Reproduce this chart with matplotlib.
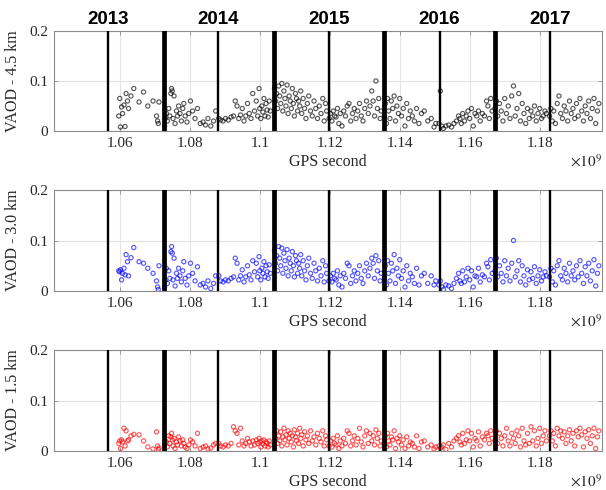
import matplotlib
matplotlib.use('Agg')
import matplotlib.pyplot as plt
import numpy as np

# ---------------- data (time in units of 1e9 GPS seconds) ----------------
gps_time = [
    # 2013 H2
    1.0597, 1.0600, 1.0602, 1.0605, 1.0608, 1.0612, 1.0615, 1.0618, 1.0622, 1.0625,
    1.0632, 1.0640, 1.0655, 1.0668, 1.0680, 1.0695, 1.0705, 1.0708, 1.0710, 1.0712,
    # 2014 H1
    1.0728, 1.0730, 1.0733, 1.0736, 1.0740, 1.0743, 1.0746, 1.0748, 1.0750, 1.0752,
    1.0755, 1.0758, 1.0762, 1.0765, 1.0768, 1.0772, 1.0776, 1.0780, 1.0783, 1.0787,
    1.0792, 1.0797, 1.0802, 1.0808, 1.0815, 1.0822, 1.0830, 1.0838, 1.0845, 1.0852,
    1.0860, 1.0868, 1.0874,
    # 2014 H2
    1.0883, 1.0888, 1.0895, 1.0902, 1.0910, 1.0918, 1.0925, 1.0930, 1.0935, 1.0940,
    1.0945, 1.0950, 1.0955, 1.0960, 1.0965, 1.0970, 1.0975, 1.0980, 1.0985, 1.0990,
    1.0994, 1.0998, 1.1000, 1.1003, 1.1006, 1.1009, 1.1012, 1.1015, 1.1018, 1.1021,
    1.1024, 1.1027, 1.1030,
    # 2015 H1
    1.1042, 1.1045, 1.1048, 1.1051, 1.1054, 1.1057, 1.1060, 1.1063, 1.1066, 1.1069,
    1.1072, 1.1075, 1.1078, 1.1081, 1.1084, 1.1087, 1.1090, 1.1093, 1.1096, 1.1099,
    1.1102, 1.1105, 1.1108, 1.1111, 1.1114, 1.1117, 1.1120, 1.1124, 1.1128, 1.1132,
    1.1136, 1.1140, 1.1145, 1.1150, 1.1155, 1.1160, 1.1165, 1.1170, 1.1175, 1.1180,
    1.1184, 1.1188, 1.1191,
    # 2015 H2
    1.1198, 1.1202, 1.1206, 1.1210, 1.1214, 1.1218, 1.1222, 1.1226, 1.1230, 1.1235,
    1.1240, 1.1245, 1.1250, 1.1255, 1.1260, 1.1265, 1.1270, 1.1275, 1.1280, 1.1285,
    1.1290, 1.1295, 1.1300, 1.1305, 1.1310, 1.1315, 1.1320, 1.1324, 1.1328, 1.1332,
    1.1336, 1.1340, 1.1344, 1.1347,
    # 2016 H1
    1.1356, 1.1359, 1.1362, 1.1365, 1.1368, 1.1372, 1.1376, 1.1380, 1.1384, 1.1388,
    1.1392, 1.1396, 1.1400, 1.1405, 1.1410, 1.1415, 1.1420, 1.1425, 1.1430, 1.1436,
    1.1442, 1.1448, 1.1455, 1.1462, 1.1470, 1.1480, 1.1490, 1.1498, 1.1503,
    # 2016 H2
    1.1512, 1.1516, 1.1520, 1.1525, 1.1532, 1.1540, 1.1548, 1.1555, 1.1562, 1.1568,
    1.1572, 1.1576, 1.1580, 1.1585, 1.1590, 1.1595, 1.1600, 1.1605, 1.1610, 1.1615,
    1.1620, 1.1625, 1.1630, 1.1636, 1.1642, 1.1648, 1.1652, 1.1656, 1.1660, 1.1664,
    # 2017 H1
    1.1672, 1.1676, 1.1680, 1.1685, 1.1690, 1.1695, 1.1700, 1.1705, 1.1710, 1.1715,
    1.1720, 1.1725, 1.1730, 1.1735, 1.1740, 1.1745, 1.1750, 1.1755, 1.1760, 1.1765,
    1.1770, 1.1775, 1.1780, 1.1785, 1.1790, 1.1795, 1.1800, 1.1805, 1.1810, 1.1815,
    1.1819,
    # 2017 H2
    1.1828, 1.1832, 1.1836, 1.1840, 1.1845, 1.1850, 1.1855, 1.1860, 1.1865, 1.1870,
    1.1875, 1.1880, 1.1885, 1.1890, 1.1895, 1.1900, 1.1905, 1.1910, 1.1915, 1.1920,
    1.1925, 1.1930, 1.1935, 1.1940, 1.1945, 1.1950, 1.1955, 1.1960, 1.1965, 1.1969,
]

vaod_45 = [
    0.030, 0.065, 0.008, 0.048, 0.035, 0.052, 0.009, 0.075, 0.060, 0.045,
    0.070, 0.085, 0.058, 0.078, 0.050, 0.060, 0.030, 0.020, 0.015, 0.058,
    0.010, 0.025, 0.035, 0.020, 0.045, 0.030, 0.075, 0.085, 0.080, 0.025,
    0.070, 0.015, 0.040, 0.030, 0.050, 0.035, 0.020, 0.045, 0.055, 0.030,
    0.018, 0.035, 0.060, 0.040, 0.025, 0.045, 0.015, 0.018, 0.012, 0.025,
    0.010, 0.020, 0.040,
    0.025, 0.022, 0.020, 0.025, 0.022, 0.028, 0.030, 0.060, 0.050, 0.025,
    0.032, 0.045, 0.020, 0.030, 0.055, 0.035, 0.025, 0.075, 0.040, 0.060,
    0.030, 0.085, 0.045, 0.025, 0.050, 0.038, 0.065, 0.030, 0.055, 0.042,
    0.028, 0.060, 0.040,
    0.085, 0.060, 0.075, 0.045, 0.090, 0.070, 0.055, 0.095, 0.040, 0.080,
    0.065, 0.050, 0.092, 0.035, 0.070, 0.060, 0.045, 0.085, 0.055, 0.030,
    0.075, 0.065, 0.040, 0.060, 0.050, 0.080, 0.035, 0.065, 0.045, 0.025,
    0.055, 0.070, 0.040, 0.030, 0.060, 0.045, 0.025, 0.050, 0.035, 0.065,
    0.020, 0.055, 0.040,
    0.025, 0.035, 0.020, 0.040, 0.030, 0.028, 0.045, 0.015, 0.035, 0.010,
    0.040, 0.030, 0.050, 0.055, 0.020, 0.035, 0.045, 0.025, 0.040, 0.055,
    0.030, 0.020, 0.045, 0.060, 0.035, 0.050, 0.080, 0.060, 0.030, 0.100,
    0.045, 0.065, 0.025, 0.040,
    0.030, 0.055, 0.015, 0.065, 0.040, 0.025, 0.060, 0.045, 0.070, 0.020,
    0.050, 0.035, 0.065, 0.030, 0.045, 0.010, 0.055, 0.025, 0.040, 0.030,
    0.020, 0.045, 0.015, 0.035, 0.040, 0.020, 0.025, 0.008, 0.015,
    0.015, 0.080, 0.010, 0.005, 0.010, 0.012, 0.008, 0.015, 0.020, 0.030,
    0.025, 0.015, 0.035, 0.020, 0.030, 0.040, 0.025, 0.045, 0.010, 0.035,
    0.030, 0.040, 0.020, 0.035, 0.030, 0.060, 0.050, 0.025, 0.065, 0.040,
    0.045, 0.060, 0.030, 0.055, 0.040, 0.020, 0.065, 0.035, 0.050, 0.025,
    0.070, 0.090, 0.030, 0.045, 0.075, 0.020, 0.055, 0.035, 0.015, 0.045,
    0.025, 0.040, 0.030, 0.050, 0.020, 0.035, 0.045, 0.025, 0.030, 0.040,
    0.035,
    0.030, 0.045, 0.020, 0.040, 0.015, 0.055, 0.070, 0.035, 0.025, 0.050,
    0.040, 0.020, 0.060, 0.035, 0.045, 0.025, 0.055, 0.030, 0.065, 0.040,
    0.020, 0.050, 0.035, 0.060, 0.025, 0.045, 0.065, 0.015, 0.040, 0.055,
]

vaod_30 = [
    0.040, 0.038, 0.042, 0.022, 0.035, 0.045, 0.032, 0.072, 0.058, 0.030,
    0.066, 0.086, 0.058, 0.055, 0.045, 0.035, 0.020, 0.008, 0.003, 0.050,
    0.008, 0.020, 0.045, 0.015, 0.040, 0.025, 0.078, 0.088, 0.075, 0.022,
    0.065, 0.010, 0.035, 0.025, 0.045, 0.030, 0.018, 0.040, 0.058, 0.025,
    0.012, 0.030, 0.055, 0.035, 0.020, 0.048, 0.012, 0.015, 0.008, 0.020,
    0.005, 0.015, 0.030,
    0.030, 0.020, 0.018, 0.022, 0.020, 0.025, 0.028, 0.065, 0.055, 0.022,
    0.030, 0.042, 0.018, 0.028, 0.050, 0.032, 0.022, 0.060, 0.038, 0.055,
    0.028, 0.068, 0.040, 0.022, 0.045, 0.035, 0.058, 0.028, 0.050, 0.038,
    0.025, 0.052, 0.035,
    0.080, 0.055, 0.070, 0.040, 0.088, 0.065, 0.050, 0.085, 0.035, 0.075,
    0.060, 0.045, 0.082, 0.030, 0.065, 0.055, 0.040, 0.078, 0.050, 0.028,
    0.070, 0.060, 0.035, 0.055, 0.045, 0.072, 0.030, 0.060, 0.040, 0.022,
    0.050, 0.065, 0.035, 0.025, 0.055, 0.040, 0.020, 0.045, 0.030, 0.060,
    0.018, 0.050, 0.035,
    0.020, 0.030, 0.018, 0.035, 0.025, 0.022, 0.040, 0.012, 0.030, 0.008,
    0.035, 0.025, 0.055, 0.050, 0.015, 0.030, 0.040, 0.020, 0.035, 0.050,
    0.025, 0.015, 0.040, 0.055, 0.030, 0.045, 0.065, 0.055, 0.025, 0.070,
    0.040, 0.060, 0.020, 0.035,
    0.025, 0.050, 0.012, 0.060, 0.035, 0.020, 0.055, 0.040, 0.072, 0.015,
    0.045, 0.030, 0.062, 0.025, 0.040, 0.008, 0.050, 0.020, 0.035, 0.028,
    0.015, 0.045, 0.012, 0.030, 0.035, 0.015, 0.030, 0.012, 0.020,
    0.012, 0.020, 0.008, 0.003, 0.012, 0.010, 0.005, 0.015, 0.025, 0.035,
    0.020, 0.015, 0.040, 0.018, 0.028, 0.045, 0.022, 0.040, 0.008, 0.030,
    0.028, 0.045, 0.018, 0.032, 0.028, 0.055, 0.048, 0.022, 0.062, 0.035,
    0.040, 0.065, 0.028, 0.050, 0.035, 0.018, 0.060, 0.030, 0.045, 0.020,
    0.055, 0.100, 0.028, 0.040, 0.060, 0.018, 0.050, 0.030, 0.012, 0.042,
    0.022, 0.038, 0.025, 0.048, 0.015, 0.030, 0.042, 0.020, 0.028, 0.038,
    0.030,
    0.028, 0.045, 0.018, 0.040, 0.012, 0.050, 0.060, 0.030, 0.022, 0.045,
    0.035, 0.018, 0.055, 0.030, 0.040, 0.022, 0.050, 0.028, 0.060, 0.035,
    0.015, 0.048, 0.030, 0.055, 0.020, 0.040, 0.062, 0.010, 0.035, 0.050,
]

vaod_15 = [
    0.015, 0.020, 0.005, 0.022, 0.018, 0.045, 0.010, 0.040, 0.020, 0.022,
    0.030, 0.033, 0.032, 0.020, 0.008, 0.004, 0.038, 0.010, 0.003, 0.006,
    0.012, 0.020, 0.018, 0.008, 0.030, 0.015, 0.028, 0.035, 0.022, 0.010,
    0.025, 0.005, 0.018, 0.012, 0.028, 0.020, 0.010, 0.022, 0.015, 0.008,
    0.005, 0.012, 0.022, 0.018, 0.010, 0.035, 0.005, 0.008, 0.010, 0.004,
    0.006, 0.012, 0.015,
    0.015, 0.010, 0.008, 0.012, 0.010, 0.015, 0.048, 0.040, 0.035, 0.012,
    0.045, 0.020, 0.010, 0.015, 0.025, 0.018, 0.010, 0.020, 0.012, 0.022,
    0.015, 0.025, 0.018, 0.008, 0.020, 0.014, 0.022, 0.010, 0.018, 0.015,
    0.008, 0.020, 0.012,
    0.035, 0.025, 0.040, 0.015, 0.030, 0.020, 0.038, 0.010, 0.028, 0.045,
    0.022, 0.032, 0.012, 0.040, 0.025, 0.035, 0.018, 0.030, 0.008, 0.042,
    0.028, 0.020, 0.035, 0.015, 0.045, 0.025, 0.032, 0.010, 0.038, 0.022,
    0.030, 0.015, 0.040, 0.020, 0.028, 0.012, 0.035, 0.025, 0.018, 0.040,
    0.010, 0.030, 0.022,
    0.010, 0.020, 0.008, 0.025, 0.015, 0.012, 0.030, 0.005, 0.020, 0.010,
    0.025, 0.015, 0.040, 0.035, 0.010, 0.020, 0.030, 0.012, 0.025, 0.045,
    0.018, 0.008, 0.030, 0.040, 0.015, 0.035, 0.020, 0.030, 0.012, 0.042,
    0.025, 0.035, 0.010, 0.020,
    0.015, 0.030, 0.008, 0.035, 0.020, 0.012, 0.028, 0.022, 0.040, 0.005,
    0.025, 0.018, 0.030, 0.012, 0.022, 0.005, 0.028, 0.010, 0.018, 0.015,
    0.008, 0.030, 0.005, 0.018, 0.020, 0.008, 0.012, 0.004, 0.008,
    0.010, 0.005, 0.008, 0.012, 0.003, 0.015, 0.008, 0.020, 0.025, 0.030,
    0.018, 0.012, 0.035, 0.015, 0.022, 0.040, 0.020, 0.035, 0.008, 0.025,
    0.020, 0.038, 0.010, 0.028, 0.022, 0.035, 0.030, 0.015, 0.040, 0.025,
    0.020, 0.040, 0.015, 0.035, 0.025, 0.010, 0.030, 0.045, 0.020, 0.010,
    0.035, 0.025, 0.015, 0.040, 0.030, 0.008, 0.045, 0.020, 0.012, 0.035,
    0.015, 0.048, 0.020, 0.040, 0.010, 0.025, 0.045, 0.015, 0.030, 0.040,
    0.020,
    0.030, 0.040, 0.020, 0.035, 0.010, 0.045, 0.030, 0.040, 0.025, 0.038,
    0.015, 0.030, 0.042, 0.020, 0.035, 0.010, 0.040, 0.028, 0.045, 0.032,
    0.008, 0.038, 0.025, 0.042, 0.015, 0.030, 0.045, 0.005, 0.028, 0.040,
]

year_labels = ['2013', '2014', '2015', '2016', '2017']
year_starts = [1.072569616, 1.104105616, 1.135641617, 1.167264018]   # thick lines
mid_years = [1.056672016, 1.088208016, 1.119744017, 1.151366417, 1.182902418]  # thin lines
x_ticks = [1.06, 1.08, 1.10, 1.12, 1.14, 1.16, 1.18]
y_ticks = [0, 0.1, 0.2]
panel_labels = ['VAOD - 4.5 km', 'VAOD - 3.0 km', 'VAOD - 1.5 km']
panel_colors = ['black', 'blue', 'red']

# ---------------- figure ----------------
plt.rcParams['font.family'] = ['Liberation Serif', 'DejaVu Serif']
plt.rcParams['mathtext.fontset'] = 'stix'

fig = plt.figure(figsize=(6.06, 4.9), dpi=100)
left, width = 54 / 606, (602 - 54) / 606
panel_px = [(31, 131), (190, 291), (350, 451)]
series = [vaod_45, vaod_30, vaod_15]
t = np.array(gps_time)
assert len(t) == len(vaod_45) == len(vaod_30) == len(vaod_15)

spine_col = '#8c8c8c'
text_col = '#262626'

for i, (top_px, bot_px) in enumerate(panel_px):
    b = (490 - bot_px) / 490
    h = (bot_px - top_px) / 490
    ax = fig.add_axes([left, b, width, h])
    ax.set_xlim(1.0412, 1.1978)
    ax.set_ylim(0, 0.2)
    ax.set_xticks(x_ticks)
    ax.set_xticklabels(['%g' % v for v in x_ticks])
    ax.set_yticks(y_ticks)
    ax.set_yticklabels(['%g' % v for v in y_ticks])
    ax.grid(True, color='#e3e3e3', linewidth=0.8, zorder=0)
    ax.set_axisbelow(True)
    for s in ax.spines.values():
        s.set_color(spine_col)
        s.set_linewidth(0.8)
    ax.tick_params(direction='in', length=3, width=0.6, color=spine_col,
                   top=True, right=True, labelsize=11, labelcolor=text_col, pad=4)

    col = panel_colors[i]
    ax.scatter(t, series[i], s=9, facecolors='none', edgecolors=col,
               linewidths=0.85, alpha=0.65, zorder=2)

    for xv in year_starts:
        ax.axvline(xv, color='black', linewidth=3.4, zorder=3)
    for xv in mid_years:
        ax.axvline(xv, color='black', linewidth=1.7, zorder=3)

    ax.set_ylabel(panel_labels[i], fontsize=11.5, color=text_col, labelpad=6)
    ax.set_xlabel('GPS second', fontsize=11.5, color=text_col, labelpad=3)
    ax.text(1.0, -0.22, r'$\times10^{9}$', transform=ax.transAxes, ha='right',
            va='top', fontsize=11, color=text_col)

    if i == 0:
        for lab, xv in zip(year_labels, mid_years):
            ax.text(xv, 1.025, lab, transform=ax.get_xaxis_transform(),
                    ha='center', va='bottom', fontsize=13.5, fontweight='bold',
                    family='Liberation Sans', color='black')

fig.savefig('out.png', dpi=100)
